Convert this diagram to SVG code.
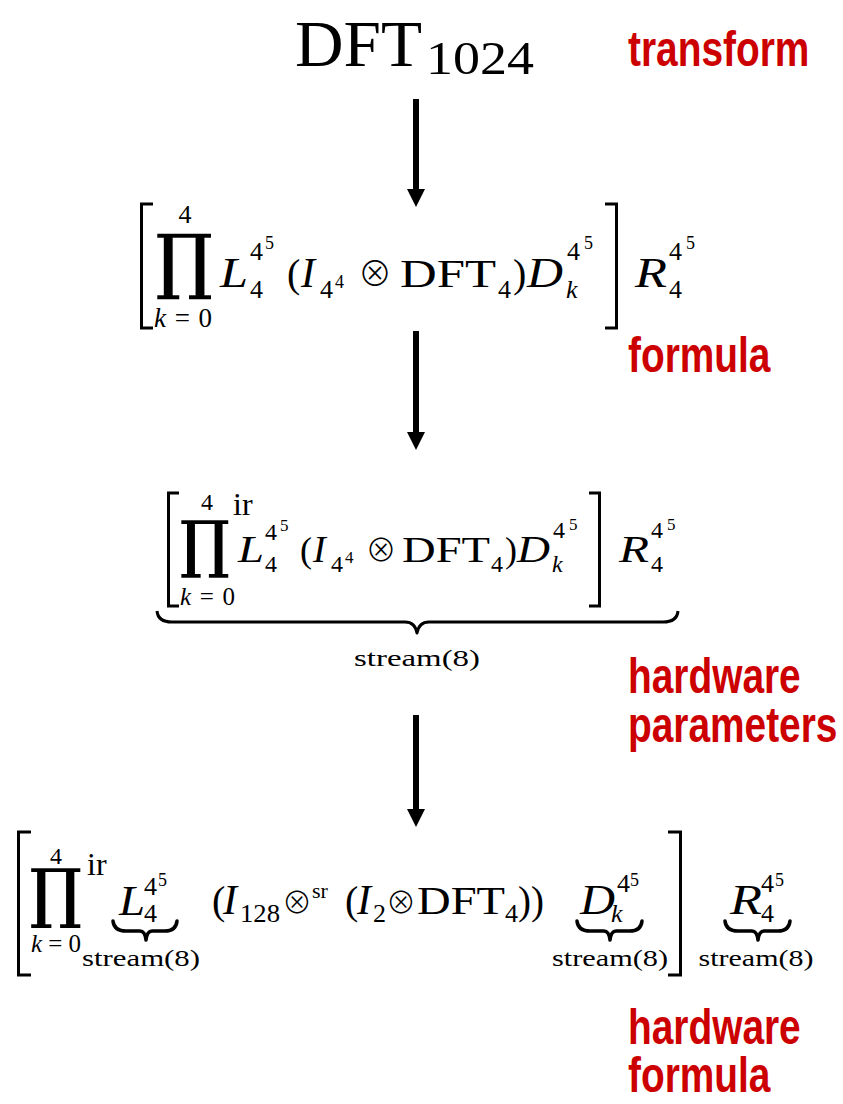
<svg xmlns="http://www.w3.org/2000/svg" width="843" height="1104" viewBox="0 0 843 1104">
<defs>
<style>
.m{font-family:"Liberation Serif","DejaVu Serif",serif;fill:#000}
.i{font-style:italic}
.pr{font-family:"DejaVu Serif","Liberation Serif",serif;fill:#000;stroke:#000;stroke-width:1.6}
.op{font-family:"Noto Sans CJK JP","DejaVu Sans",sans-serif;font-weight:300;fill:#000}
.lbl{font-family:"Liberation Sans",Arial,sans-serif;font-weight:bold;fill:#cc0000;font-size:50px}
.br{fill:none;stroke:#000;stroke-width:3}
.bb{fill:none;stroke:#000;stroke-width:3;stroke-linejoin:round}
.sb{fill:none;stroke:#000;stroke-width:3.5;stroke-linejoin:round;stroke-linecap:round}
.arr{stroke:#000;stroke-width:6}
</style>
<marker id="ah" markerUnits="userSpaceOnUse" markerWidth="18" markerHeight="18" refX="0" refY="9" orient="auto" viewBox="0 0 18 18"><path d="M0,0 L18,9 L0,18 z" fill="#000"/></marker>
</defs>
<rect width="843" height="1104" fill="#fff"/>

<g id="labels">
<text class="lbl" transform="translate(628,66) scale(0.777,1)">transform</text>
<text class="lbl" transform="translate(628,372) scale(0.777,1)">formula</text>
<text class="lbl" transform="translate(628,693) scale(0.777,1)">hardware</text>
<text class="lbl" transform="translate(628,742) scale(0.777,1)">parameters</text>
<text class="lbl" transform="translate(628,1044) scale(0.777,1)">hardware</text>
<text class="lbl" transform="translate(628,1092) scale(0.777,1)">formula</text>
</g>

<g id="connectors">
<line class="arr" x1="416" y1="99" x2="416" y2="189" marker-end="url(#ah)"/>
<line class="arr" x1="416" y1="331" x2="416" y2="432" marker-end="url(#ah)"/>
<line class="arr" x1="416" y1="715" x2="416" y2="809" marker-end="url(#ah)"/>
</g>

<g id="transform">
<text class="m" x="295" y="66" font-size="66" textLength="127" lengthAdjust="spacingAndGlyphs">DFT</text>
<text class="m" x="426" y="74" font-size="46" textLength="108" lengthAdjust="spacingAndGlyphs">1024</text>
</g>

<g id="formula">
<path class="br" d="M153,204 H141.5 V328 H153"/>
<text class="m" x="185" y="223" font-size="26" text-anchor="middle">4</text>
<text class="pr" x="184" y="285" font-size="70" text-anchor="middle">∏</text>
<text class="m" x="154" y="327" font-size="27" textLength="58"><tspan font-style="italic">k</tspan>=0</text>
<text class="m i" x="220" y="287" font-size="42" textLength="28" lengthAdjust="spacingAndGlyphs">L</text>
<text class="m" x="250" y="260" font-size="26">4</text>
<text class="m" x="265" y="249" font-size="18">5</text>
<text class="m" x="250" y="298" font-size="26">4</text>
<text class="m" x="287" y="287" font-size="40">(</text>
<text class="m i" x="301" y="287" font-size="42">I</text>
<text class="m" x="320" y="298" font-size="26">4</text>
<text class="m" x="335" y="288" font-size="18">4</text>
<text class="op" x="375" y="286" font-size="34" text-anchor="middle">⊗</text>
<text class="m" x="400" y="287" font-size="40" textLength="96" lengthAdjust="spacingAndGlyphs">DFT</text>
<text class="m" x="498" y="298" font-size="26">4</text>
<text class="m" x="513" y="287" font-size="40">)</text>
<text class="m i" x="527" y="287" font-size="42" textLength="36" lengthAdjust="spacingAndGlyphs">D</text>
<text class="m" x="567" y="260" font-size="26">4</text>
<text class="m" x="584" y="249" font-size="18">5</text>
<text class="m i" x="566" y="298" font-size="26">k</text>
<path class="br" d="M605,204 H616.5 V328 H605"/>
<text class="m i" x="635" y="287" font-size="42" textLength="32" lengthAdjust="spacingAndGlyphs">R</text>
<text class="m" x="669" y="260" font-size="26">4</text>
<text class="m" x="686" y="249" font-size="18">5</text>
<text class="m" x="669" y="298" font-size="26">4</text>
</g>

<g id="hardware-parameters">
<path class="br" d="M179,493 H168.5 V606 H179"/>
<text class="m" x="207" y="510" font-size="24" text-anchor="middle">4</text>
<text class="pr" x="205" y="565" font-size="61" text-anchor="middle">∏</text>
<text class="m" x="233" y="515" font-size="32">ir</text>
<text class="m" x="180" y="605" font-size="25" textLength="55"><tspan font-style="italic">k</tspan>=0</text>
<text class="m i" x="238" y="562" font-size="38" textLength="26" lengthAdjust="spacingAndGlyphs">L</text>
<text class="m" x="265" y="540" font-size="24">4</text>
<text class="m" x="280" y="531" font-size="17">5</text>
<text class="m" x="265" y="572" font-size="24">4</text>
<text class="m" x="300" y="562" font-size="36">(</text>
<text class="m i" x="313" y="562" font-size="38">I</text>
<text class="m" x="331" y="572" font-size="24">4</text>
<text class="m" x="345" y="563" font-size="17">4</text>
<text class="op" x="381" y="561" font-size="31" text-anchor="middle">⊗</text>
<text class="m" x="402" y="562" font-size="36" textLength="88" lengthAdjust="spacingAndGlyphs">DFT</text>
<text class="m" x="491" y="572" font-size="24">4</text>
<text class="m" x="505" y="562" font-size="36">)</text>
<text class="m i" x="517" y="562" font-size="38" textLength="33" lengthAdjust="spacingAndGlyphs">D</text>
<text class="m" x="553" y="538" font-size="24">4</text>
<text class="m" x="569" y="530" font-size="17">5</text>
<text class="m i" x="552" y="572" font-size="24">k</text>
<path class="br" d="M589,493 H599.5 V606 H589"/>
<text class="m i" x="619" y="562" font-size="38" textLength="30" lengthAdjust="spacingAndGlyphs">R</text>
<text class="m" x="651" y="538" font-size="24">4</text>
<text class="m" x="667" y="530" font-size="17">5</text>
<text class="m" x="651" y="572" font-size="24">4</text>
<path class="bb" d="M157,611 Q158,622 172,622 H405 Q415,622 417,633 Q419,622 429,622 H663 Q677,622 678,611"/>
<text class="m" x="417" y="666" font-size="24" text-anchor="middle" textLength="126" lengthAdjust="spacingAndGlyphs">stream(8)</text>
</g>

<g id="hardware-formula">
<path class="br" d="M31,832 H18.5 V975 H31"/>
<text class="m" x="56" y="864" font-size="24" text-anchor="middle">4</text>
<text class="pr" x="56" y="915" font-size="64" text-anchor="middle">∏</text>
<text class="m" x="87" y="875" font-size="32">ir</text>
<text class="m" x="31" y="952" font-size="25" textLength="50"><tspan font-style="italic">k</tspan>=0</text>
<text class="m i" x="119" y="915" font-size="42" textLength="26" lengthAdjust="spacingAndGlyphs">L</text>
<text class="m" x="144" y="895" font-size="26">4</text>
<text class="m" x="158" y="886" font-size="18">5</text>
<text class="m" x="144" y="922" font-size="26">4</text>
<path class="sb" d="M113,921 Q114,931 126,931 H140 Q145,931 146,940 Q147,931 152,931 H165 Q176,931 177,921"/>
<text class="m" x="141" y="966" font-size="24" text-anchor="middle" textLength="118" lengthAdjust="spacingAndGlyphs">stream(8)</text>
<text class="m" x="212" y="914" font-size="40">(</text>
<text class="m i" x="223" y="914" font-size="42">I</text>
<text class="m" x="240" y="922" font-size="26" textLength="40" lengthAdjust="spacingAndGlyphs">128</text>
<text class="op" x="297" y="913" font-size="30" text-anchor="middle">⊗</text>
<text class="m" x="312" y="898" font-size="22">sr</text>
<text class="m" x="345" y="914" font-size="40">(</text>
<text class="m i" x="357" y="914" font-size="42">I</text>
<text class="m" x="373" y="922" font-size="26">2</text>
<text class="op" x="401" y="913" font-size="30" text-anchor="middle">⊗</text>
<text class="m" x="417" y="914" font-size="40" textLength="88" lengthAdjust="spacingAndGlyphs">DFT</text>
<text class="m" x="505" y="922" font-size="26">4</text>
<text class="m" x="518" y="914" font-size="40" textLength="26" lengthAdjust="spacingAndGlyphs">))</text>
<text class="m i" x="580" y="914" font-size="42" textLength="35" lengthAdjust="spacingAndGlyphs">D</text>
<text class="m" x="617" y="892" font-size="26">4</text>
<text class="m" x="630" y="886" font-size="18">5</text>
<text class="m i" x="611" y="922" font-size="26">k</text>
<path class="sb" d="M577,921 Q578,931 590,931 H604 Q609,931 610,940 Q611,931 616,931 H630 Q641,931 642,921"/>
<text class="m" x="610" y="966" font-size="24" text-anchor="middle" textLength="116" lengthAdjust="spacingAndGlyphs">stream(8)</text>
<path class="br" d="M668,832 H680.5 V975 H668"/>
<text class="m i" x="730" y="914" font-size="42" textLength="32" lengthAdjust="spacingAndGlyphs">R</text>
<text class="m" x="761" y="892" font-size="26">4</text>
<text class="m" x="775" y="886" font-size="18">5</text>
<text class="m" x="761" y="922" font-size="26">4</text>
<path class="sb" d="M725,921 Q726,931 738,931 H752 Q757,931 758,940 Q759,931 764,931 H778 Q789,931 790,921"/>
<text class="m" x="756" y="966" font-size="24" text-anchor="middle" textLength="115" lengthAdjust="spacingAndGlyphs">stream(8)</text>
</g>
</svg>
